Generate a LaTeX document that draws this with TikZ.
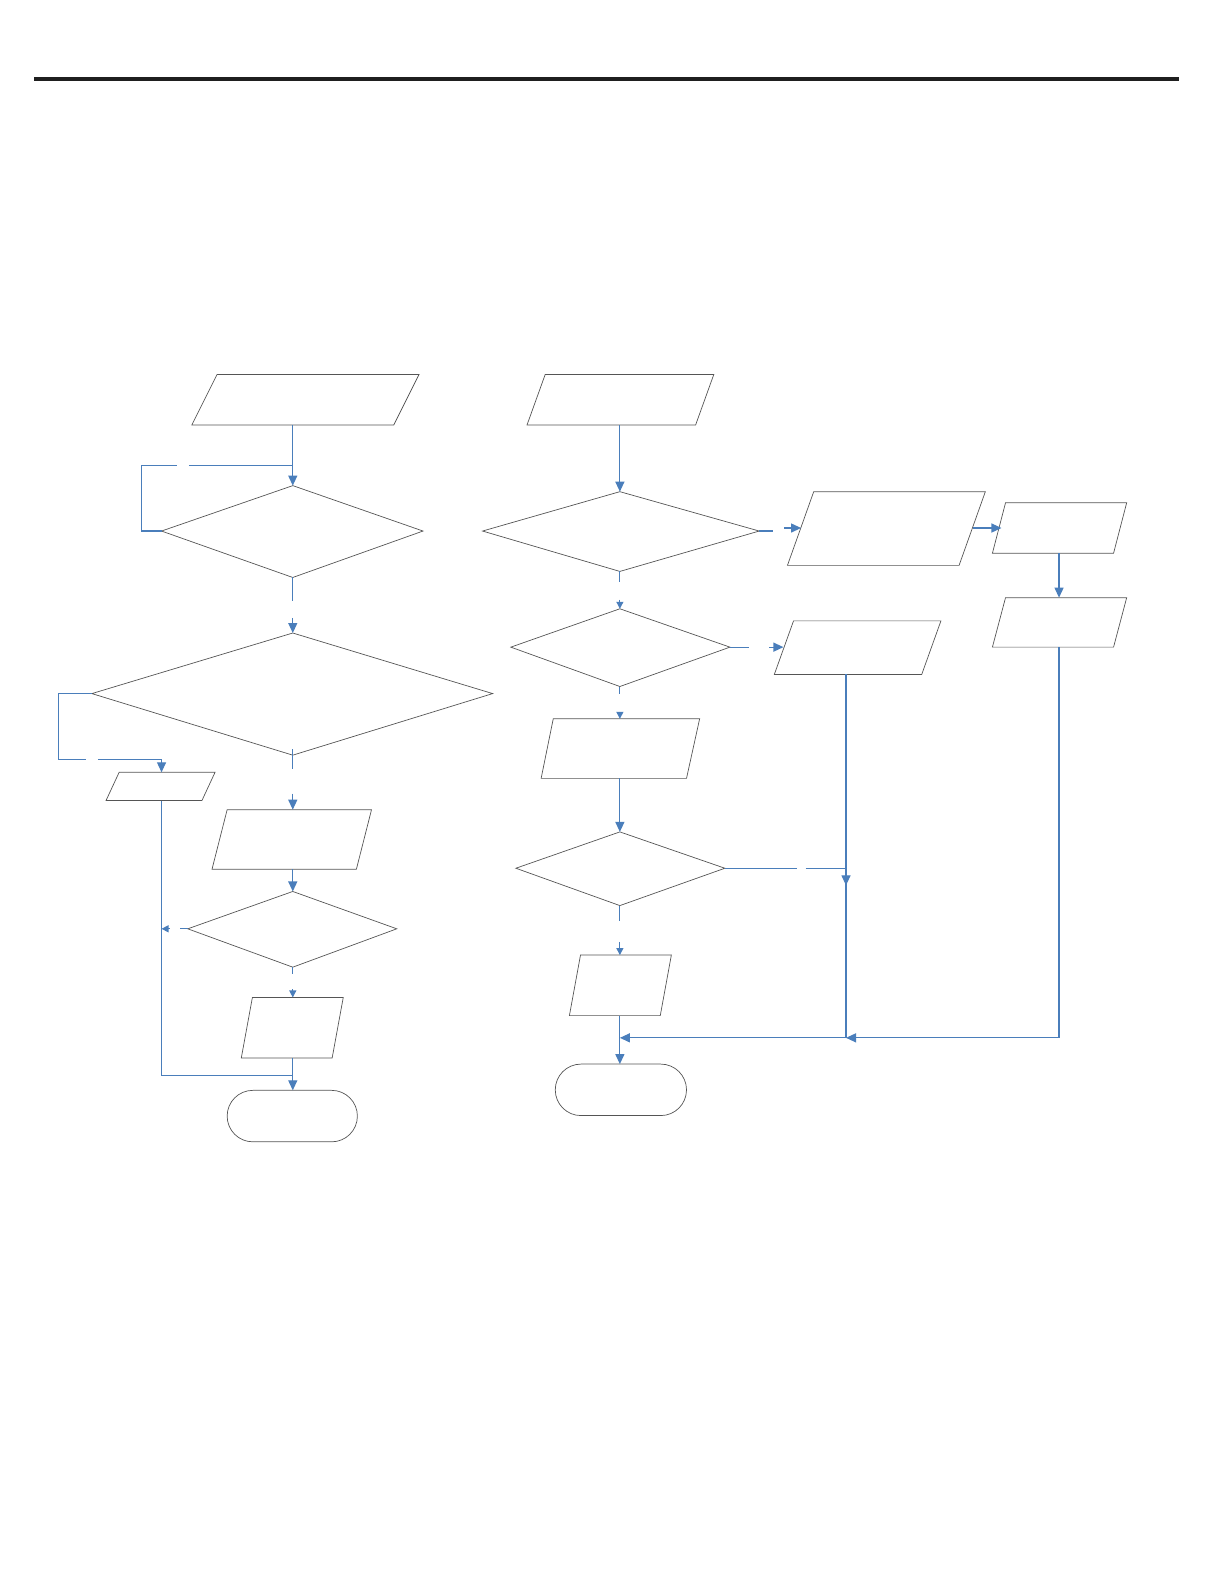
\documentclass[tikz,border=0pt]{standalone}
\usetikzlibrary{arrows.meta,calc}
\definecolor{connblue}{HTML}{4A7EBB}
\definecolor{shapegray}{HTML}{555555}
\tikzset{
  shp/.style={draw=shapegray,line width=0.7pt,line join=miter},
  conn/.style={draw=connblue,line width=1.2pt},
  arr/.style={conn,-{Triangle[length=10pt,width=9pt]}},
  sarr/.style={conn,-{Triangle[length=7pt,width=7pt]}}
}
\begin{document}
\begin{tikzpicture}[x=1.009pt,y=-1.009pt]
\useasboundingbox (0,0) rectangle (1202,1568);
% top rule
\fill[black!88] (34,76.5) rectangle (1168,80.5);

% ---------- left column shapes ----------
\draw[shp] (215,371) -- (415,371) -- (390,421) -- (190,421) -- cycle;
\coordinate (p1b) at (290,421);
\draw[shp] (290,481) coordinate (d1t) -- (419,526) coordinate (d1r) -- (290,572) coordinate (d1b) -- (160,526) coordinate (d1l) -- cycle;
\draw[shp] (290,627) coordinate (d2t) -- (488,687) coordinate (d2r) -- (290,748) coordinate (d2b) -- (91,687) coordinate (d2l) -- cycle;
\draw[shp] (118,765) -- (213,765) -- (200,793) -- (105,793) -- cycle;
\coordinate (psT) at (160,765); \coordinate (psB) at (160,793);
\draw[shp] (225,802) -- (368,802) -- (353,861) -- (210,861) -- cycle;
\coordinate (p3t) at (290,802); \coordinate (p3b) at (290,861);
\draw[shp] (290,883) coordinate (d3t) -- (393,920) coordinate (d3r) -- (290,958) coordinate (d3b) -- (186,920) coordinate (d3l) -- cycle;
\draw[shp] (250,988) -- (340,988) -- (329,1048) -- (239,1048) -- cycle;
\coordinate (p4t) at (290,988); \coordinate (p4b) at (290,1048);
\draw[shp,rounded corners=25.7pt] (225,1080) rectangle (354,1131);
\coordinate (t1t) at (290,1080);

% ---------- left column connectors ----------
\draw[arr] (p1b) -- (d1t);
\draw[conn] (d1l) -- (140,526) -- (140,461) -- (175,461);
\draw[conn] (187,461) -- (290,461);
\draw[conn] (d1b) -- (290,595);
\draw[arr] (290,612) -- (d2t);
\draw[conn] (d2l) -- (58,687) -- (58,752) -- (85,752);
\draw[arr] (97,752) -- (160,752) -- (psT);
\draw[conn] (290,742) -- (290,762);
\draw[arr] (290,786) -- (p3t);
\draw[arr] (p3b) -- (d3t);
\draw[conn] (d3l) -- (178,920);
\draw[sarr] (168,920) -- (160,920);
\draw[conn] (d3b) -- (290,965);
\draw[sarr] (290,980) -- (p4t);
\draw[conn] (psB) -- (160,1065) -- (290,1065);
\draw[arr] (p4b) -- (t1t);

% ---------- right column shapes ----------
\draw[shp] (540,371) -- (707,371) -- (689,421) -- (522,421) -- cycle;
\coordinate (p5b) at (614,421);
\draw[shp] (614,487) coordinate (d4t) -- (752,526) coordinate (d4r) -- (614,566) coordinate (d4b) -- (478,526) coordinate (d4l) -- cycle;
\draw[shp] (806,487) -- (976,487) -- (950,560) -- (780,560) -- cycle;
\coordinate (p6l) at (793.5,523); \coordinate (p6r) at (963.5,523);
\draw[shp] (996,498) -- (1116,498) -- (1103,548) -- (983,548) -- cycle;
\coordinate (p7l) at (992,523); \coordinate (p7b) at (1049,548);
\draw[shp] (996,592) -- (1116,592) -- (1103,641) -- (983,641) -- cycle;
\coordinate (p8t) at (1049,592); \coordinate (p8b) at (1049,641);
\draw[shp] (614,603) coordinate (d5t) -- (723,641) coordinate (d5r) -- (614,680) coordinate (d5b) -- (506,641) coordinate (d5l) -- cycle;
\draw[shp] (786,615) -- (932,615) -- (913,668) -- (767,668) -- cycle;
\coordinate (p9l) at (776,641); \coordinate (p9b) at (838,668);
\draw[shp] (548,712) -- (693,712) -- (680,771) -- (536,771) -- cycle;
\coordinate (p10t) at (614,712); \coordinate (p10b) at (614,771);
\draw[shp] (614,824) coordinate (d6t) -- (718,860) coordinate (d6r) -- (614,897) coordinate (d6b) -- (511,860) coordinate (d6l) -- cycle;
\draw[shp] (575,946) -- (665,946) -- (654,1006) -- (564,1006) -- cycle;
\coordinate (p11t) at (614,946); \coordinate (p11b) at (614,1006);
\draw[shp,rounded corners=25.7pt] (550,1054) rectangle (680,1105);
\coordinate (t2t) at (614,1054);

% ---------- right column connectors ----------
\draw[arr] (p5b) -- (d4t);
\draw[conn] (d4r) -- (766,526);
\draw[arr] (777,523) -- (p6l);
\draw[arr] (p6r) -- (p7l);
\draw[arr] (p7b) -- (p8t);
\draw[conn] (d4b) -- (614,576);
\draw[sarr] (614,594) -- (d5t);
\draw[conn] (d5r) -- (742,641);
\draw[arr] (762,641) -- (p9l);
\draw[conn] (d5b) -- (614,687);
\draw[sarr] (614,705) -- (p10t);
\draw[arr] (p10b) -- (d6t);
\draw[conn] (d6r) -- (789,860);
\draw[conn] (798,860) -- (838,860);
\draw[arr] (p9b) -- (838,877);
\draw[conn] (838,870) -- (838,1028);
\draw[conn] (d6b) -- (614,912);
\draw[sarr] (614,933) -- (p11t);
\draw[arr] (p11b) -- (t2t);
\draw[conn] (p8b) -- (1049,1028) -- (900,1028);
\draw[arr] (1049,1028) -- (838,1028);
\draw[arr] (838,1028) -- (614,1028);
\end{tikzpicture}
\end{document}
